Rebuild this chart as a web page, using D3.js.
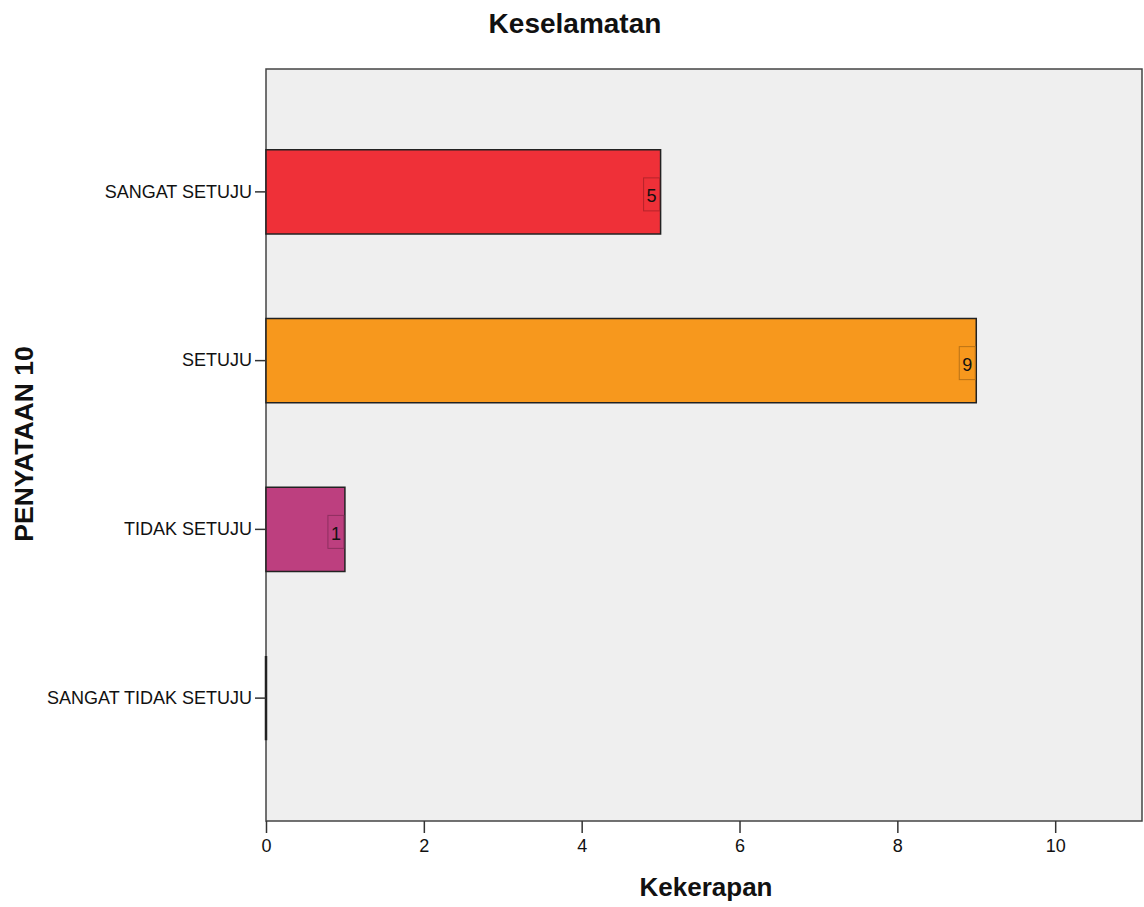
<!DOCTYPE html>
<html><head><meta charset="utf-8">
<script src="https://d3js.org/d3.v7.min.js"></script>
<style>body{margin:0;background:#fff;}svg{display:block;font-family:"Liberation Sans",Arial,sans-serif;}</style>
</head><body>
<script>
const categories = ["SANGAT SETUJU", "SETUJU", "TIDAK SETUJU", "SANGAT TIDAK SETUJU"];
const values = [5, 9, 1, 0];
const colors = ["#EF3038", "#F7981D", "#BD3F7F", "#3D6B9E"];
const xTicks = [0, 2, 4, 6, 8, 10];
const title = "Keselamatan";
const xTitle = "Kekerapan";
const yTitle = "PENYATAAN 10";

const W = 1144, H = 907;
const plot = {left: 266, right: 1142, top: 69, bottom: 821};
const FONT = "Liberation Sans, Arial, sans-serif";
const svg = d3.select("body").append("svg").attr("width", W).attr("height", H);

const x = d3.scaleLinear().domain([0, 11.1]).range([plot.left, plot.right]);
const y = d3.scaleBand().domain(categories).range([plot.top + 38.5, plot.bottom - 38.5]).paddingInner(0.5).paddingOuter(0.25);

svg.append("rect").attr("x", plot.left).attr("y", plot.top)
  .attr("width", plot.right - plot.left).attr("height", plot.bottom - plot.top)
  .attr("fill", "#EFEFEF").attr("stroke", "#444").attr("stroke-width", 1.5);

const g = svg.append("g");
categories.forEach((c, i) => {
  const v = values[i];
  const x0 = x(0), x1 = x(v);
  const y0 = y(c), y1 = y(c) + y.bandwidth();
  g.append("path").attr("d", `M${x0},${y0}H${x1}V${y1}H${x0}Z`)
    .attr("fill", colors[i]).attr("stroke", "#222").attr("stroke-width", v > 0 ? 1.5 : 2.5);
  if (v > 0) {
    const cy = y(c) + y.bandwidth() / 2;
    const dark = d3.color(colors[i]).darker(0.8);
    g.append("rect").attr("x", x1 - 17).attr("y", cy - 14).attr("width", 16).attr("height", 33)
      .attr("fill", "none").attr("stroke", dark).attr("stroke-width", 1);
    g.append("text").attr("x", x1 - 9).attr("y", cy + 10.5).attr("text-anchor", "middle")
      .attr("font-size", 18).attr("font-family", FONT).attr("fill", "#111").text(v);
  }
});

// x axis
const xAxis = d3.axisBottom(x).tickValues(xTicks).tickSize(12).tickPadding(6).tickFormat(d3.format("d"));
const xg = svg.append("g").attr("transform", `translate(0,${plot.bottom})`).call(xAxis);
xg.select(".domain").remove();
xg.selectAll("line").attr("stroke", "#333").attr("stroke-width", 1.5);
xg.selectAll("text").attr("font-size", 18).attr("fill", "#111").attr("font-family", FONT);

// y axis
const yAxis = d3.axisLeft(y).tickSize(11).tickPadding(3);
const yg = svg.append("g").attr("transform", `translate(${plot.left},0)`).call(yAxis);
yg.select(".domain").remove();
yg.selectAll("line").attr("stroke", "#333").attr("stroke-width", 1.5);
yg.selectAll("text").attr("font-size", 18).attr("fill", "#111").attr("font-family", FONT);

svg.append("text").attr("x", 575).attr("y", 33).attr("text-anchor", "middle").attr("font-family", FONT)
  .attr("font-size", 28).attr("font-weight", "bold").attr("fill", "#111").text(title);
svg.append("text").attr("x", 706).attr("y", 896).attr("text-anchor", "middle").attr("font-family", FONT)
  .attr("font-size", 26).attr("font-weight", "bold").attr("fill", "#111").text(xTitle);
svg.append("text").attr("transform", "translate(33,444) rotate(-90)").attr("text-anchor", "middle").attr("font-family", FONT)
  .attr("font-size", 26.5).attr("font-weight", "bold").attr("fill", "#111").text(yTitle);
</script>
</body></html>
